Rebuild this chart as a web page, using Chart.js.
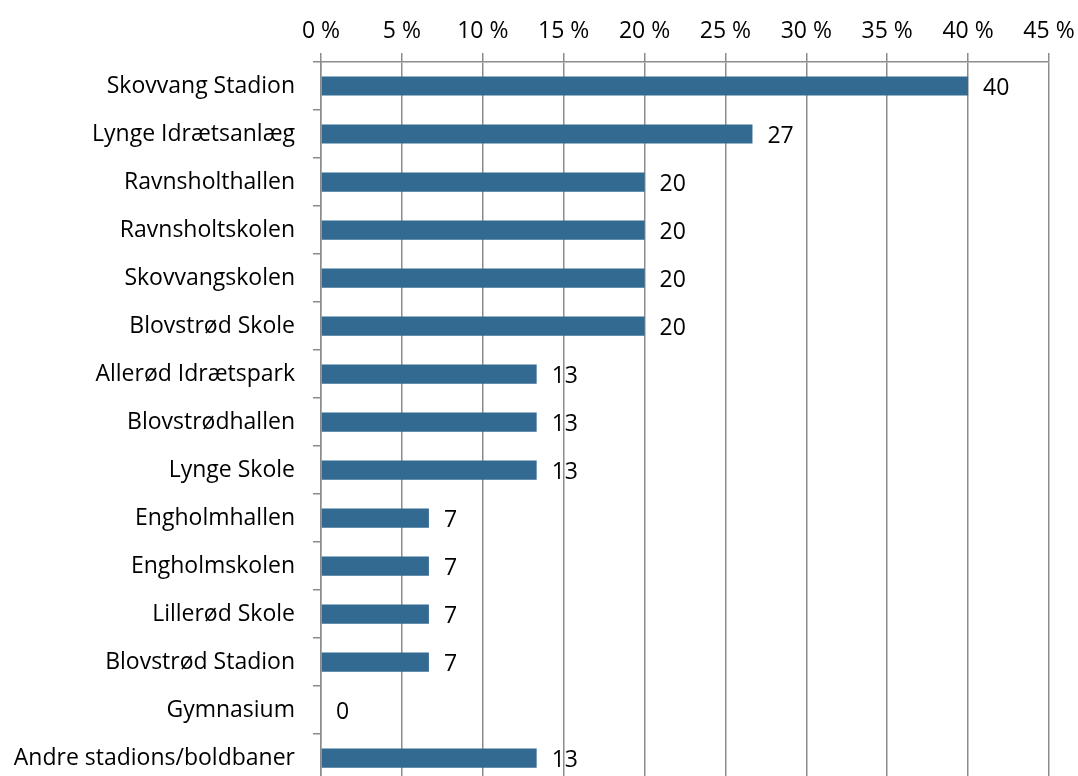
<!DOCTYPE html>
<html>
<head>
<meta charset="utf-8">
<script src="https://cdn.jsdelivr.net/npm/chart.js@4"></script>
<style>
  html, body { margin: 0; padding: 0; background: #fff; overflow: hidden; }
  #wrap { width: 1078px; height: 814px; }
</style>
</head>
<body>
<div id="wrap"><canvas id="c" width="1078" height="814"></canvas></div>
<script>
// Facilities and share of answers (percent)
const categories = [
  'Skovvang Stadion', 'Lynge Idrætsanlæg', 'Ravnsholthallen', 'Ravnsholtskolen',
  'Skovvangskolen', 'Blovstrød Skole', 'Allerød Idrætspark', 'Blovstrødhallen',
  'Lynge Skole', 'Engholmhallen', 'Engholmskolen', 'Lillerød Skole',
  'Blovstrød Stadion', 'Gymnasium', 'Andre stadions/boldbaner'
];
const shares = [40, 26.67, 20, 20, 20, 20, 13.33, 13.33, 13.33, 6.67, 6.67, 6.67, 6.67, 0, 13.33];
const xTicks = [0, 5, 10, 15, 20, 25, 30, 35, 40, 45];

const FONT = "'Open Sans', 'Noto Sans', sans-serif";
const FONT_SIZE = 23;
const AXIS_GRAY = '#8c8c8c';

// Value labels written right of each bar end
const valueLabels = {
  id: 'valueLabels',
  afterDatasetsDraw(chart) {
    const ctx = chart.ctx;
    const meta = chart.getDatasetMeta(0);
    ctx.save();
    ctx.font = FONT_SIZE + 'px ' + FONT;
    ctx.fillStyle = '#000';
    ctx.textAlign = 'left';
    ctx.textBaseline = 'middle';
    meta.data.forEach((bar, i) => {
      const v = chart.data.datasets[0].data[i];
      ctx.fillText(Math.round(v).toString(), bar.x + 15, bar.y + 2);
    });
    ctx.restore();
  }
};

new Chart(document.getElementById('c'), {
  type: 'bar',
  data: {
    labels: categories,
    datasets: [{
      data: shares,
      backgroundColor: '#336a92',
      borderWidth: 0,
      barPercentage: 0.8,
      categoryPercentage: 0.5
    }]
  },
  options: {
    indexAxis: 'y',
    responsive: false,
    animation: false,
    events: [],
    layout: { padding: { left: 0, right: 29, top: 0, bottom: 0 } },
    plugins: { legend: { display: false }, tooltip: { enabled: false } },
    scales: {
      x: {
        position: 'top',
        min: 0,
        max: 45,
        afterBuildTicks(scale) { scale.ticks = xTicks.map(v => ({ value: v })); },
        afterFit(scale) {
          scale.height = 62;
          scale.paddingRight = 0;
          scale.paddingLeft = 0;
        },
        ticks: {
          font: { family: FONT, size: FONT_SIZE },
          color: '#000',
          padding: 8,
          maxRotation: 0,
          callback: v => v + ' %'
        },
        grid: { color: AXIS_GRAY, lineWidth: 1.5, tickLength: 9, drawOnChartArea: true },
        border: { color: AXIS_GRAY, width: 1.5 }
      },
      y: {
        afterFit(scale) { scale.width = 321; },
        ticks: {
          font: { family: FONT, size: FONT_SIZE },
          color: '#000',
          padding: 18
        },
        grid: { offset: true, drawOnChartArea: false, color: AXIS_GRAY, lineWidth: 1.5, tickLength: 8 },
        border: { color: AXIS_GRAY, width: 1.5 }
      }
    }
  },
  plugins: [valueLabels]
});
</script>
</body>
</html>
